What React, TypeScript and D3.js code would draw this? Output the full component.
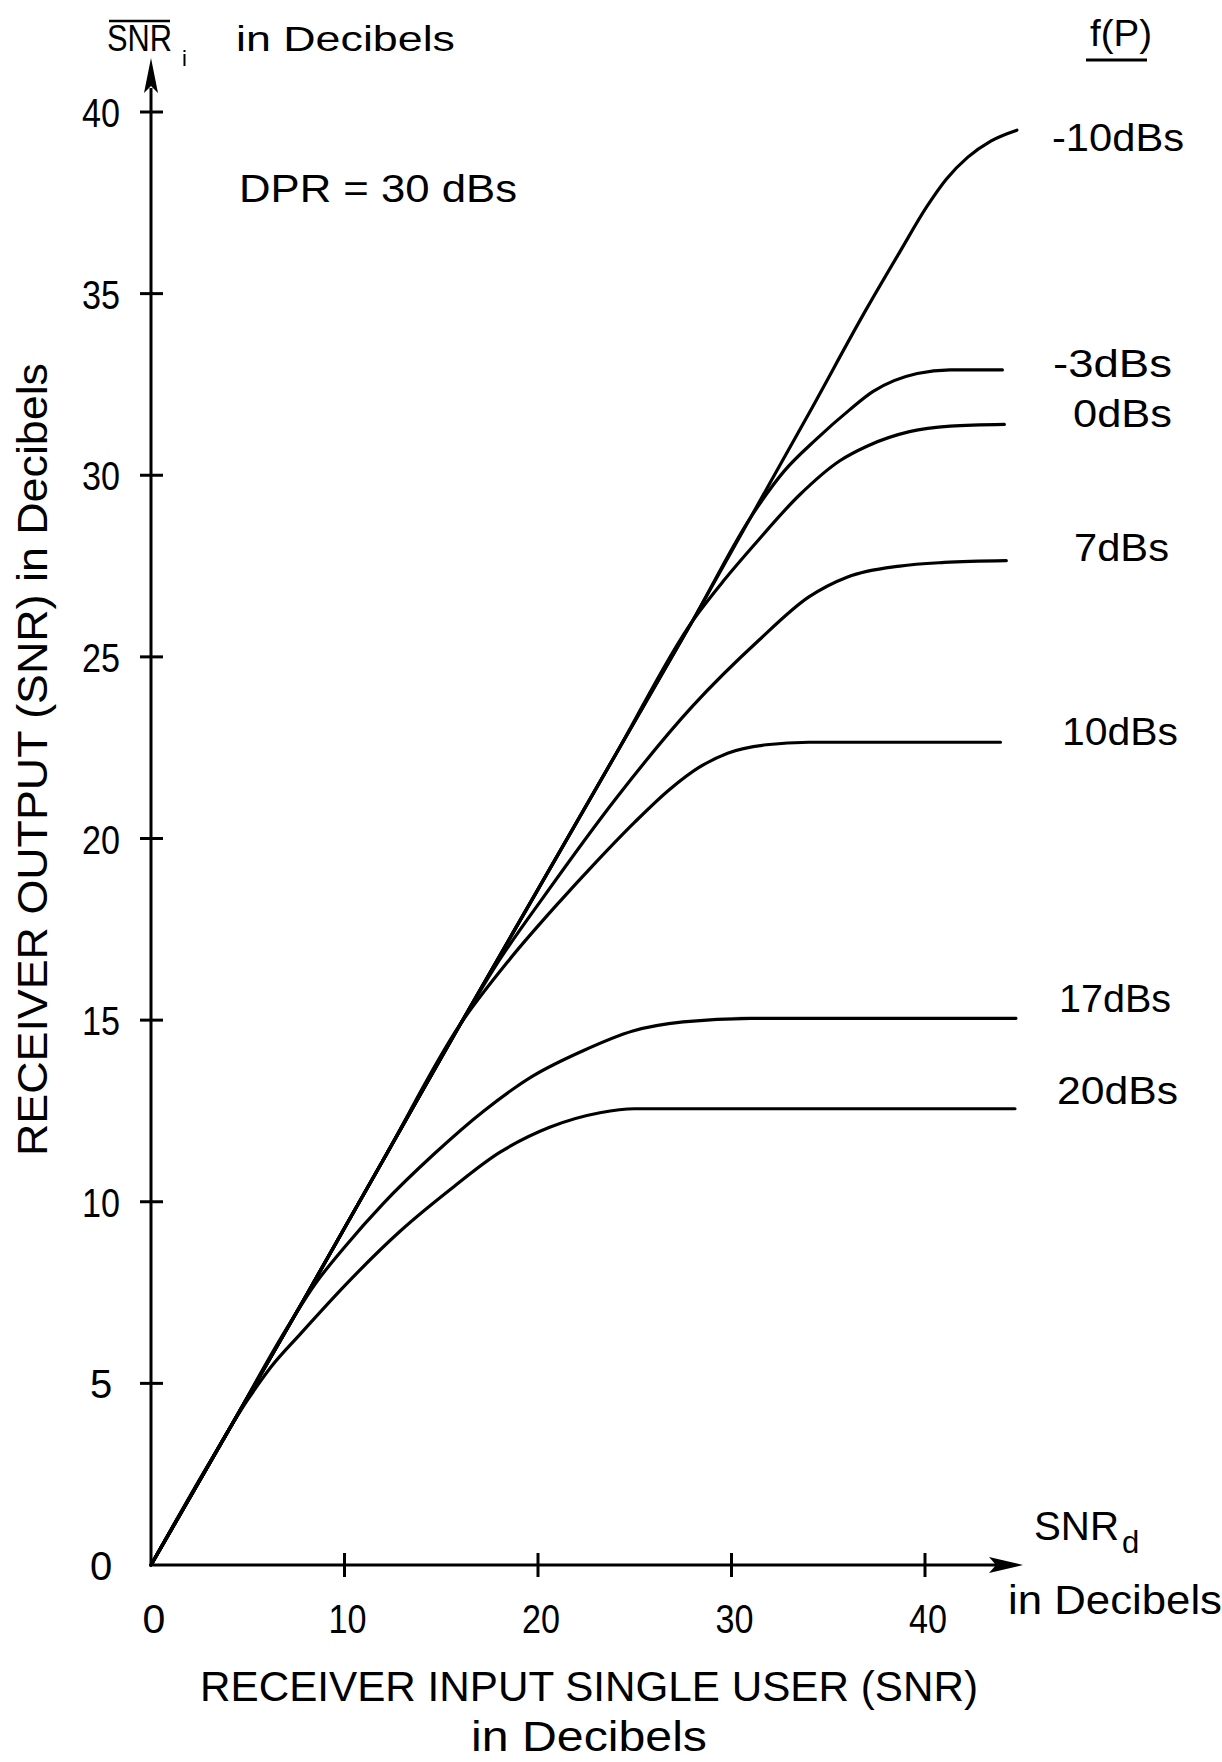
import React from "react";
import * as d3 from "d3";

// ---- data (x = SNR_d in dB, y = SNR_i in dB) ----
const xTicks = [0, 10, 20, 30, 40];
const yTicks = [0, 5, 10, 15, 20, 25, 30, 35, 40];

const curveM10: [number, number][] = [
  [0, 0], [4, 3.7], [8, 7.4], [12, 11.15], [16, 14.9], [20, 18.6], [24, 22.3], [28, 26.0],
  [31, 28.85], [34, 31.7], [37, 34.6], [38.7, 36.15], [40.1, 37.4], [41.1, 38.15],
  [42.2, 38.75], [43.4, 39.2], [44.75, 39.5],
];
const curveM3: [number, number][] = [
  [0, 0], [4, 3.7], [8, 7.4], [12, 11.15], [16, 14.9], [20, 18.6], [24, 22.3], [28, 26.0],
  [31, 28.85], [32.7, 30.1], [34.4, 31.0], [36.1, 31.8], [37.3, 32.3], [39.6, 32.8],
  [41.3, 32.9], [44.0, 32.9],
];
const curve0: [number, number][] = [
  [0, 0], [4, 3.7], [8, 7.4], [12, 11.15], [16, 14.9], [20, 18.6], [24, 22.3], [28, 26.0],
  [29.6, 27.1], [31.2, 28.1], [33.5, 29.45], [35.6, 30.4], [37, 30.8], [39.2, 31.2],
  [41.3, 31.35], [44.1, 31.4],
];
const curve7: [number, number][] = [
  [0, 0], [4, 3.7], [8, 7.4], [12, 11.15], [16, 14.9], [18, 16.65], [20.3, 18.4],
  [24.1, 21.15], [28, 23.65], [31.4, 25.45], [34, 26.65], [36, 27.2], [38.7, 27.5],
  [41, 27.6], [44.2, 27.65],
];
const curve10: [number, number][] = [
  [0, 0], [4, 3.7], [8, 7.4], [12, 11.15], [16, 14.9], [18.5, 16.65], [21.1, 18.25],
  [23, 19.35], [25, 20.45], [26.8, 21.35], [28.3, 21.95], [29.8, 22.35], [31.8, 22.58],
  [34, 22.65], [43.9, 22.65],
];
const curve17: [number, number][] = [
  [0, 0], [4, 3.7], [7, 6.5], [8.5, 7.75], [10, 8.75], [12, 9.95], [14.6, 11.3],
  [17.2, 12.5], [19.7, 13.45], [22.3, 14.15], [24.9, 14.7], [27.5, 14.95], [31, 15.05],
  [44.7, 15.05],
];
const curve20: [number, number][] = [
  [0, 0], [3, 2.8], [5, 4.55], [6.2, 5.45], [7.7, 6.35], [10.3, 7.85], [12.9, 9.2],
  [15.5, 10.35], [18, 11.35], [20.6, 12.05], [23.2, 12.45], [25, 12.56], [44.65, 12.56],
];

const seriesList = [curveM10, curveM3, curve0, curve7, curve10, curve17, curve20];
const seriesLabels = ["-10dBs", "-3dBs", "0dBs", "7dBs", "10dBs", "17dBs", "20dBs"];

// ---- layout ----
const W = 1222;
const H = 1762;
const FONT = "'Liberation Sans', Arial, sans-serif";

// label placement (x, baseline, textLength)
const labelPos: [number, number, number][] = [
  [1052, 151, 132],
  [1053, 377, 119],
  [1073, 427, 99],
  [1074, 561, 95],
  [1062, 745, 116],
  [1059, 1012, 112],
  [1057, 1104, 121],
];

export default function App() {
  const x = d3.scaleLinear().domain([0, 40]).range([151, 925]);
  const y = d3.scaleLinear().domain([0, 40]).range([1565, 112]);
  const line = d3
    .line<[number, number]>()
    .x((d) => x(d[0]))
    .y((d) => y(d[1]))
    .curve(d3.curveMonotoneX);

  const x0 = x(0);
  const y0 = y(0);

  return (
    <svg
      width={W}
      height={H}
      viewBox={`0 0 ${W} ${H}`}
      style={{ position: "absolute", left: 0, top: 0, background: "#fff" }}
      fontFamily={FONT}
    >
      <rect x={0} y={0} width={W} height={H} fill="#fff" />

      {/* axes */}
      <line x1={x0} y1={y0} x2={x0} y2={88} stroke="#000" strokeWidth={3} />
      <path d={`M${x0},58 L${x0 - 7},93 L${x0},86 L${x0 + 7},93 Z`} fill="#000" />
      <line x1={x0} y1={y0} x2={998} y2={y0} stroke="#000" strokeWidth={3} />
      <path d={`M1023,${y0} L989,${y0 - 8} L996,${y0} L989,${y0 + 8} Z`} fill="#000" />

      {/* y ticks */}
      {yTicks.map((t) => (
        <g key={"yt" + t}>
          {t > 0 && (
            <line x1={x0 - 11} x2={x0 + 12} y1={y(t)} y2={y(t)} stroke="#000" strokeWidth={3} />
          )}
          <text
            x={101}
            y={y(t) + 15}
            fontSize={40}
            textAnchor="middle"
            {...(String(t).length > 1 ? { textLength: 38, lengthAdjust: "spacingAndGlyphs" } : {})}
          >
            {t}
          </text>
        </g>
      ))}

      {/* x ticks */}
      {xTicks.map((t) => (
        <g key={"xt" + t}>
          {t > 0 && (
            <line x1={x(t)} x2={x(t)} y1={y0 - 12} y2={y0 + 12} stroke="#000" strokeWidth={3} />
          )}
          <text
            x={x(t) + 3}
            y={1633}
            fontSize={41}
            textAnchor="middle"
            {...(String(t).length > 1 ? { textLength: 38, lengthAdjust: "spacingAndGlyphs" } : {})}
          >
            {t}
          </text>
        </g>
      ))}

      {/* curves */}
      {seriesList.map((s, i) => (
        <path
          key={"c" + i}
          d={line(s) || ""}
          fill="none"
          stroke="#000"
          strokeWidth={3.2}
          strokeLinecap="round"
          strokeLinejoin="round"
        />
      ))}

      {/* series labels */}
      {seriesLabels.map((lab, i) => (
        <text
          key={"l" + i}
          x={labelPos[i][0]}
          y={labelPos[i][1]}
          fontSize={39}
          textLength={labelPos[i][2]}
          lengthAdjust="spacingAndGlyphs"
        >
          {lab}
        </text>
      ))}

      {/* f(P) header */}
      <text x={1090} y={46} fontSize={37} textLength={62} lengthAdjust="spacingAndGlyphs">
        f(P)
      </text>
      <line x1={1086} x2={1147} y1={60} y2={60} stroke="#000" strokeWidth={3} />

      {/* y axis top title */}
      <line x1={109} x2={170} y1={21} y2={21} stroke="#000" strokeWidth={2.5} />
      <text x={107} y={51} fontSize={37} textLength={65} lengthAdjust="spacingAndGlyphs">
        SNR
      </text>
      <text x={182} y={66} fontSize={22}>
        i
      </text>
      <text x={236} y={51} fontSize={35} textLength={219} lengthAdjust="spacingAndGlyphs">
        in Decibels
      </text>

      {/* DPR annotation */}
      <text x={239} y={202} fontSize={39} textLength={278} lengthAdjust="spacingAndGlyphs">
        DPR = 30 dBs
      </text>

      {/* x axis end label */}
      <text x={1034} y={1540} fontSize={40} textLength={85} lengthAdjust="spacingAndGlyphs">
        SNR
      </text>
      <text x={1122} y={1553} fontSize={31}>
        d
      </text>
      <text x={1008} y={1614} fontSize={40} textLength={214} lengthAdjust="spacingAndGlyphs">
        in Decibels
      </text>

      {/* x axis title */}
      <text x={200} y={1701} fontSize={43} textLength={778} lengthAdjust="spacingAndGlyphs">
        RECEIVER INPUT SINGLE USER (SNR)
      </text>
      <text x={471} y={1751} fontSize={42} textLength={236} lengthAdjust="spacingAndGlyphs">
        in Decibels
      </text>

      {/* y axis rotated title */}
      <text
        transform="translate(47,1156) rotate(-90)"
        x={0}
        y={0}
        fontSize={43}
        textLength={793}
        lengthAdjust="spacingAndGlyphs"
      >
        RECEIVER OUTPUT (SNR) in Decibels
      </text>
    </svg>
  );
}
